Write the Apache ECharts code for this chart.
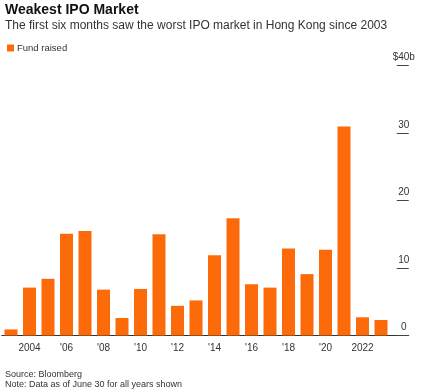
<!DOCTYPE html>
<html>
<head>
<meta charset="utf-8">
<script src="https://cdn.jsdelivr.net/npm/echarts@6/dist/echarts.min.js"></script>
<style>
html,body{margin:0;padding:0;background:#fff;}
#chart{width:430px;height:391px;}
</style>
</head>
<body>
<div id="chart"></div>
<script>
const years = ['2003','2004','2005','2006','2007','2008','2009','2010','2011','2012','2013','2014','2015','2016','2017','2018','2019','2020','2021','2022','2023'];
const fundRaised = [0.9, 7.1, 8.4, 15.1, 15.5, 6.8, 2.6, 6.9, 15.0, 4.4, 5.2, 11.9, 17.4, 7.6, 7.1, 12.9, 9.1, 12.7, 31.0, 2.7, 2.3];
const xLabelYears = ['2004','2006','2008','2010','2012','2014','2016','2018','2020','2022'];
const xLabelTexts = ['2004',"'06","'08","'10","'12","'14","'16","'18","'20",'2022'];
const yTickValues = [0, 10, 20, 30, 40];
const yTickLabels = ['0','10','20','30','$40b'];

const FONT = 'Liberation Sans, Arial, sans-serif';
const ORANGE = '#FC6A0A';
const categories = years.concat(['']);

const chart = echarts.init(document.getElementById('chart'), null, {renderer:'canvas'});
const isLabelIdx = (i) => xLabelYears.indexOf(categories[i]) >= 0;

chart.setOption({
  animation: false,
  backgroundColor: '#fff',
  textStyle: {fontFamily: FONT},
  graphic: [
    {type:'text', left: 5, top: 3, style:{text:'Weakest IPO Market', font:'bold 14px ' + FONT, fill:'#111'}},
    {type:'text', left: 5, top: 19.5, style:{text:'The first six months saw the worst IPO market in Hong Kong since 2003', font:'12px ' + FONT, fill:'#333'}},
    {type:'text', left: 5, top: 370, style:{text:'Source: Bloomberg', font:'9px ' + FONT, fill:'#333'}},
    {type:'text', left: 5, top: 380, style:{text:'Note: Data as of June 30 for all years shown', font:'9px ' + FONT, fill:'#333'}}
  ],
  legend: {
    left: 2, top: 38,
    itemWidth: 7, itemHeight: 7, itemGap: 10,
    icon: 'rect',
    textStyle: {fontSize: 9.5, color: '#333', fontFamily: FONT, padding: [0,0,0,-2]},
    data: ['Fund raised']
  },
  grid: {left: 1.75, right: 21.25, top: 65.7, bottom: 55.5, containLabel: false},
  xAxis: {
    type: 'category',
    data: categories,
    axisLine: {lineStyle: {color: '#333', width: 1}},
    axisTick: {alignWithLabel: true, length: 3, lineStyle:{color:'#333'}, interval: (i) => isLabelIdx(i)},
    axisLabel: {
      interval: (i) => isLabelIdx(i),
      formatter: (v) => { const k = xLabelYears.indexOf(v); return k >= 0 ? xLabelTexts[k] : ''; },
      margin: 8, fontSize: 10, color: '#333', fontFamily: FONT
    }
  },
  yAxis: {
    type: 'value',
    position: 'right',
    min: 0, max: 40, interval: 10,
    axisLine: {show: false},
    splitLine: {show: false},
    axisTick: {show: true, inside: true, length: 12, lineStyle: {color: '#444', width: 1}},
    axisLabel: {
      inside: true, margin: 5, align: 'center', verticalAlign: 'bottom',
      padding: [0,0,3,0],
      fontSize: 10, color: '#333', fontFamily: FONT,
      formatter: (v) => { const k = yTickValues.indexOf(v); return k >= 0 ? yTickLabels[k] : ''; }
    }
  },
  series: [{
    name: 'Fund raised',
    type: 'bar',
    data: fundRaised,
    barWidth: 13,
    itemStyle: {color: ORANGE}
  }]
});
</script>
</body>
</html>
